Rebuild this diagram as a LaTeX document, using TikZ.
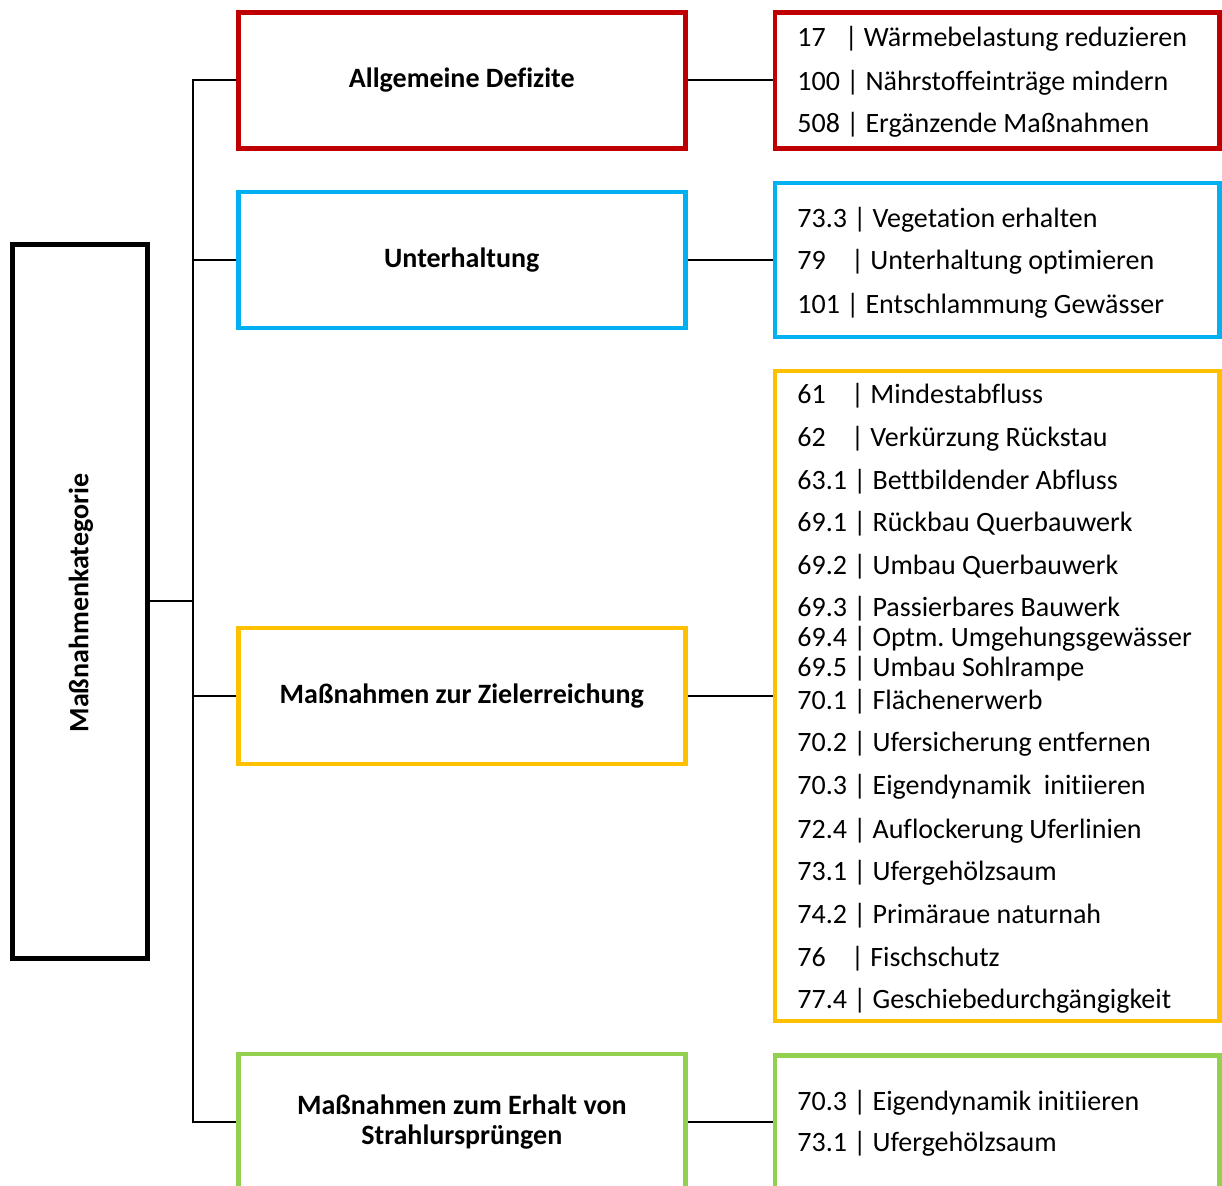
\documentclass[tikz,border=0pt]{standalone}
\usepackage{fontspec}
\setmainfont{Carlito}[Ligatures=NoCommon]
\usetikzlibrary{positioning}
\definecolor{defred}{HTML}{C00000}
\definecolor{ublue}{HTML}{00B0F0}
\definecolor{zyellow}{HTML}{FFC000}
\definecolor{sgreen}{HTML}{92D050}

\begin{document}
\frenchspacing
\begin{tikzpicture}[x=0.5pt, y=-0.5pt]
\tikzstyle{every node}+=[inner sep=0pt, font=\fontsize{14pt}{15pt}\selectfont]
\tikzstyle{catbox}=[draw, line width=2.25pt, minimum width=223.5pt, minimum height=68pt, align=center, font=\fontsize{14pt}{15pt}\selectfont\bfseries]
\tikzstyle{lstbox}=[draw, line width=2.25pt, minimum width=222.4pt]
\tikzstyle{item}=[anchor=base west]
\tikzstyle{link}=[line width=1pt]
\useasboundingbox (0,0) rectangle (1222,1186);
\clip (0,0) rectangle (1222,1186);
\node[draw, line width=2.5pt, minimum width=67.5pt, minimum height=357pt] (root) at (80,601.5) {};
\node[rotate=90, font=\fontsize{14pt}{15pt}\selectfont\bfseries] (rootlabel) at (81,603) {Maßnahmenkategorie};
\node[catbox, draw=defred] (defizite) at (461.8,80.3) {Allgemeine Defizite};
\node[catbox, draw=ublue] (unterhalt) at (461.8,260) {Unterhaltung};
\node[catbox, draw=zyellow] (ziel) at (461.8,696) {Maßnahmen zur Zielerreichung};
\node[catbox, draw=sgreen] (erhalt) at (461.8,1122) {Maßnahmen zum Erhalt von\\Strahlursprüngen};
\node[lstbox, draw=defred, minimum height=68pt] (defliste) at (997.3,80.3) {};
\node[lstbox, draw=ublue, minimum height=76.9pt] (unterliste) at (997.3,260) {};
\node[lstbox, draw=zyellow, minimum height=325pt] (zielliste) at (997.3,696) {};
\node[lstbox, draw=sgreen, minimum height=66.5pt] (erhaltliste) at (997.3,1122) {};
\coordinate (spine) at (193,0);
\draw[link] (root.east) -- (root.east -| spine);
\draw[link] (defizite.west) -- (defizite.west -| spine) -- (erhalt.west -| spine) -- (erhalt.west);
\draw[link] (unterhalt.west) -- (unterhalt.west -| spine);
\draw[link] (ziel.west) -- (ziel.west -| spine);
\draw[link] (defizite.east) -- (defliste.west);
\draw[link] (unterhalt.east) -- (unterliste.west);
\draw[link] (ziel.east) -- (zielliste.west);
\draw[link] (erhalt.east) -- (erhaltliste.west);
\node[item] (d1) at (797,47) {17\ \ \ | Wärmebelastung reduzieren};
\node[item] (d2) at (797,91) {100 | Nährstoffeinträge mindern};
\node[item] (d3) at (797,133) {508 | Ergänzende Maßnahmen};
\node[item] (u1) at (797,228) {73.3 | Vegetation erhalten};
\node[item] (u2) at (797,270) {79\ \ \ \ | Unterhaltung optimieren};
\node[item] (u3) at (797,314) {101 | Entschlammung Gewässer};
\node[item] (z1) at (797,404) {61\ \ \ \ | Mindestabfluss};
\node[item] (z2) at (797,447) {62\ \ \ \ | Verkürzung Rückstau};
\node[item] (z3) at (797,490) {63.1 | Bettbildender Abfluss};
\node[item] (z4) at (797,532) {69.1 | Rückbau Querbauwerk};
\node[item] (z5) at (797,575) {69.2 | Umbau Querbauwerk};
\node[item] (z6) at (797,617) {69.3 | Passierbares Bauwerk};
\node[item] (z7) at (797,647) {69.4 | Optm. Umgehungsgewässer};
\node[item] (z8) at (797,677) {69.5 | Umbau Sohlrampe};
\node[item] (z9) at (797,710) {70.1 | Flächenerwerb};
\node[item] (z10) at (797,752) {70.2 | Ufersicherung entfernen};
\node[item] (z11) at (797,795) {70.3 | Eigendynamik\ \ initiieren};
\node[item] (z12) at (797,839) {72.4 | Auflockerung Uferlinien};
\node[item] (z13) at (797,881) {73.1 | Ufergehölzsaum};
\node[item] (z14) at (797,924) {74.2 | Primäraue naturnah};
\node[item] (z15) at (797,967) {76\ \ \ \ | Fischschutz};
\node[item] (z16) at (797,1009) {77.4 | Geschiebedurchgängigkeit};
\node[item] (e1) at (797,1111) {70.3 | Eigendynamik initiieren};
\node[item] (e2) at (797,1152) {73.1 | Ufergehölzsaum};
\end{tikzpicture}
\end{document}
